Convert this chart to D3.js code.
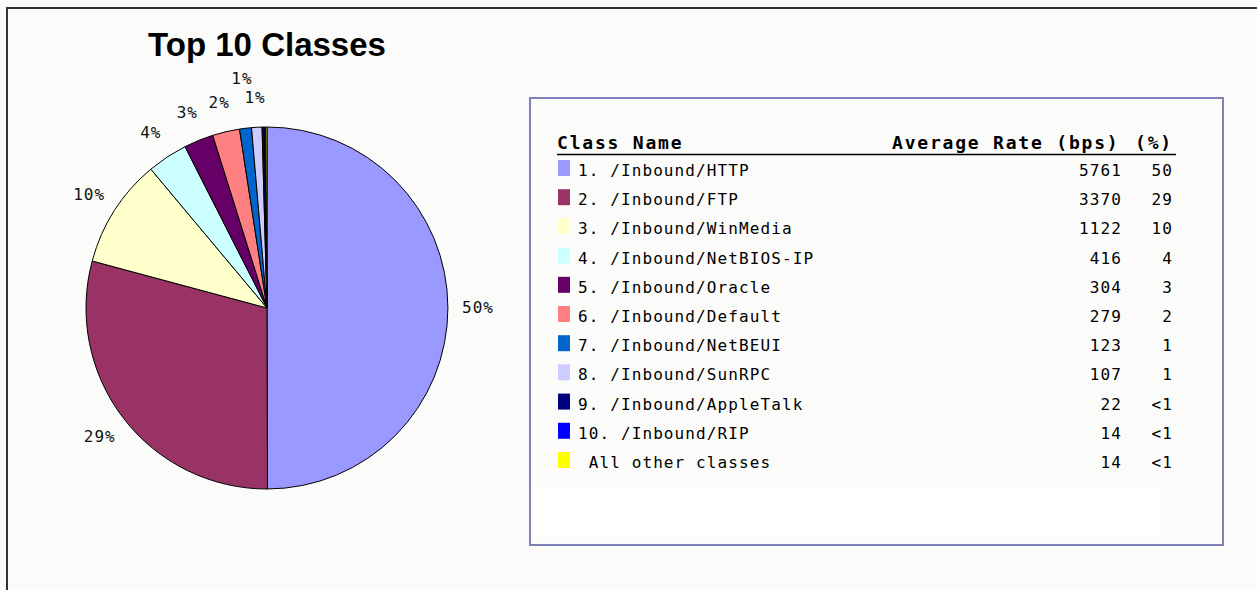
<!DOCTYPE html>
<html>
<head>
<meta charset="utf-8">
<script src="https://cdn.jsdelivr.net/npm/d3@7"></script>
<style>
  html, body { margin: 0; padding: 0; background: #fbfcfa; }
  svg text { white-space: pre; }
</style>
</head>
<body>
<div id="chart"></div>
<script>
// class names as shown in the table
var classLabels = ["1. /Inbound/HTTP", "2. /Inbound/FTP", "3. /Inbound/WinMedia",
    "4. /Inbound/NetBIOS-IP", "5. /Inbound/Oracle", "6. /Inbound/Default",
    "7. /Inbound/NetBEUI", "8. /Inbound/SunRPC", "9. /Inbound/AppleTalk",
    "10. /Inbound/RIP", " All other classes"];

// average rate in bps
var rates = [5761, 3370, 1122, 416, 304, 279, 123, 107, 22, 14, 14];

// percent column
var pctLabels = ["50", "29", "10", "4", "3", "2", "1", "1", "<1", "<1", "<1"];

var colors = ["#9999ff", "#993366", "#ffffcc", "#ccffff", "#660066", "#ff8080",
    "#0066cc", "#ccccff", "#000080", "#0000ff", "#ffff00"];

var W = 1257, H = 590;
var svg = d3.select("#chart").append("svg")
    .attr("width", W).attr("height", H)
    .style("display", "block");

svg.append("rect").attr("width", W).attr("height", H).attr("fill", "#fbfcfa");

// outer frame (top + left edge only visible)
svg.append("path")
    .attr("d", "M7,590 V8 H1257")
    .attr("fill", "none").attr("stroke", "#333").attr("stroke-width", 2);

// ---- pie ----
var cx = 267, cy = 308, r = 181;
var data = rates.map(function(v, i){ return {name: classLabels[i], value: v, pct: pctLabels[i], color: colors[i]} });

var pie = d3.pie().sort(null).value(function(d){ return d.value });
var arcs = pie(data);
var arc = d3.arc().innerRadius(0).outerRadius(r);
var labelArc = d3.arc().innerRadius(211).outerRadius(211);

var g = svg.append("g").attr("transform", "translate(" + cx + "," + cy + ")");

g.selectAll("path.slice")
    .data(arcs)
    .enter()
    .append("path")
    .attr("class", "slice")
    .attr("d", arc)
    .attr("fill", function(d){ return d.data.color })
    .attr("stroke", "#000")
    .attr("stroke-width", 1);

// labels for slices >= 1%, nudged up when they collide
var labs = arcs.filter(function(d){ return d.data.pct != "<1" }).map(function(d){
    var c = labelArc.centroid(d);
    return {text: d.data.pct + "%", x: c[0], y: c[1]};
});
var placed = [];
labs.slice().reverse().forEach(function(l){
    var w = l.text.length * 10.7;
    var hit = true;
    while (hit) {
        hit = placed.some(function(p){
            return Math.abs(p.x - l.x) < (w + p.w) / 2 && Math.abs(p.y - l.y) < 16;
        });
        if (hit) l.y -= 20;
    }
    l.w = w;
    placed.push(l);
});

g.selectAll("text.plab")
    .data(labs)
    .enter()
    .append("text")
    .attr("class", "plab")
    .attr("x", function(d){ return d.x })
    .attr("y", function(d){ return d.y })
    .attr("dy", "0.35em")
    .attr("text-anchor", "middle")
    .style("font-family", "DejaVu Sans Mono")
    .style("font-size", "16px")
    .style("letter-spacing", "1px")
    .attr("fill", "#111")
    .text(function(d){ return d.text });

// title
svg.append("text")
    .attr("x", cx).attr("y", 56)
    .attr("text-anchor", "middle")
    .style("font-family", "Liberation Sans, Arial, sans-serif")
    .style("font-weight", "bold")
    .style("font-size", "33px")
    .attr("fill", "#000")
    .text("Top 10 Classes");

// ---- legend table ----
svg.append("rect")
    .attr("x", 530).attr("y", 98).attr("width", 693).attr("height", 447)
    .attr("fill", "#fbfcfa").attr("stroke", "#8080b8").attr("stroke-width", 2);
svg.append("rect")
    .attr("x", 531).attr("y", 488).attr("width", 629).attr("height", 48)
    .attr("fill", "#ffffff");

var headStyle = function(t){
    t.style("font-family", "DejaVu Sans Mono")
        .style("font-weight", "bold")
        .style("font-size", "18px")
        .style("letter-spacing", "1.8px")
        .attr("fill", "#000");
};
svg.append("text").attr("x", 557).attr("y", 149).text("Class Name").call(headStyle);
svg.append("text").attr("x", 892).attr("y", 149).text("Average Rate (bps)").call(headStyle);
svg.append("text").attr("x", 1135).attr("y", 149).text("(%)").call(headStyle);
svg.append("line")
    .attr("x1", 557).attr("x2", 1176).attr("y1", 154.5).attr("y2", 154.5)
    .attr("stroke", "#000").attr("stroke-width", 1.5);

var y = d3.scaleBand()
    .domain(classLabels)
    .range([155, 155 + 29.2 * classLabels.length]);

var rows = svg.selectAll("g.row")
    .data(data)
    .enter()
    .append("g")
    .attr("class", "row")
    .attr("transform", function(d){ return "translate(0," + y(d.name) + ")" });

var rowText = function(t){
    t.style("font-family", "DejaVu Sans Mono")
        .style("font-size", "16px")
        .style("letter-spacing", "1.1px")
        .attr("fill", "#000");
};

rows.append("rect")
    .attr("x", 558).attr("y", 5).attr("width", 12).attr("height", 16)
    .attr("fill", function(d){ return d.color });
rows.append("text").attr("x", 578).attr("y", 21)
    .text(function(d){ return d.name }).call(rowText);
rows.append("text").attr("x", 1122).attr("y", 21).attr("text-anchor", "end")
    .text(function(d){ return d.value }).call(rowText);
rows.append("text").attr("x", 1173).attr("y", 21).attr("text-anchor", "end")
    .text(function(d){ return d.pct }).call(rowText);
</script>
</body>
</html>
